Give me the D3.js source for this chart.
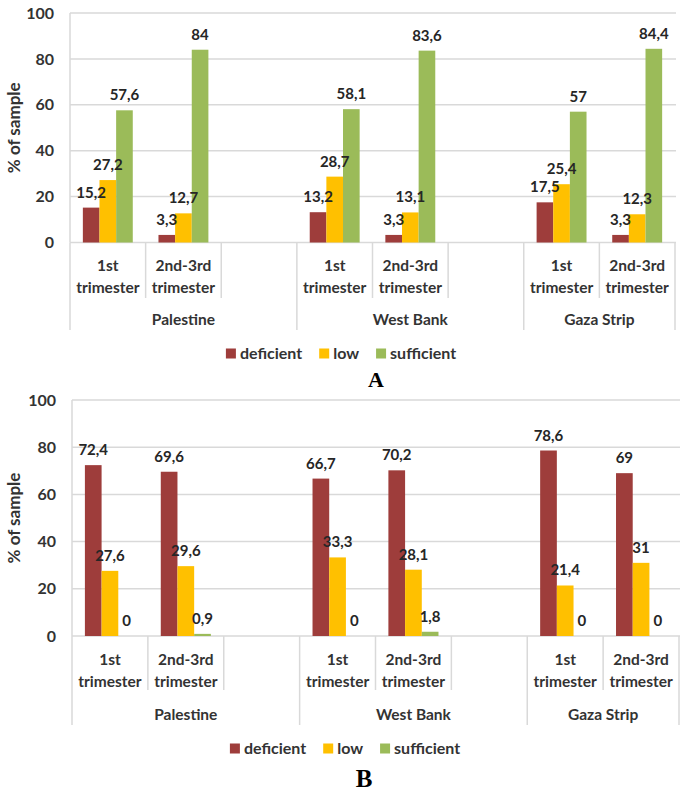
<!DOCTYPE html>
<html>
<head>
<meta charset="utf-8">
<script src="https://cdn.jsdelivr.net/npm/d3@7"></script>
<style>
  html, body { margin: 0; padding: 0; background: #fff; }
  svg { display: block; }
</style>
</head>
<body>
<svg id="chart" width="684" height="791"></svg>
<script>
// ---- data ----
const groups = ["Palestine", "West Bank", "Gaza Strip"];
const periods = ["1st|trimester", "2nd-3rd|trimester"];
const series = ["deficient", "low", "sufficient"];
const yTicks = [0, 20, 40, 60, 80, 100];

// order: Pal 1st, Pal 2nd-3rd, WB 1st, WB 2nd-3rd, Gaza 1st, Gaza 2nd-3rd
const deficientA = [15.2, 3.3, 13.2, 3.3, 17.5, 3.3];
const lowA = [27.2, 12.7, 28.7, 13.1, 25.4, 12.3];
const sufficientA = [57.6, 84, 58.1, 83.6, 57, 84.4];

const deficientB = [72.4, 69.6, 66.7, 70.2, 78.6, 69];
const lowB = [27.6, 29.6, 33.3, 28.1, 21.4, 31];
const sufficientB = [0, 0.9, 0, 1.8, 0, 0];

const colors = { deficient: "#9e3d3b", low: "#ffc000", sufficient: "#9bbb59" };
const FONT = "Lato, 'Open Sans', sans-serif";
const TXT = "#333333";

const svg = d3.select("#chart");
svg.append("rect").attr("width", 684).attr("height", 791).attr("fill", "#fff");

function drawChart(cfg, vals, letter) {
  const g = svg.append("g");
  const slots = [];
  groups.forEach((gr, gi) => {
    periods.forEach((p, pi) => slots.push(gr + "#" + pi));
    if (gi < groups.length - 1) slots.push(gr + "#gap");
  });
  const x = d3.scaleBand().domain(slots).range([cfg.x0, cfg.x1]).padding(0);
  const bw = x.bandwidth();
  const y = d3.scaleLinear().domain([0, 100]).range([cfg.yZero, cfg.yTop]);

  g.selectAll("line.grid").data(yTicks).join("line")
    .attr("x1", cfg.x0).attr("x2", cfg.x1 + 1)
    .attr("y1", d => y(d)).attr("y2", d => y(d))
    .attr("stroke", "#d9d9d9").attr("stroke-width", 1.5);
  g.append("line").attr("x1", cfg.x0).attr("x2", cfg.x0)
    .attr("y1", y(100)).attr("y2", y(0))
    .attr("stroke", "#d9d9d9").attr("stroke-width", 1.5);

  g.selectAll("text.yt").data(yTicks).join("text")
    .attr("x", cfg.x0 - 16).attr("y", d => y(d)).attr("dy", "0.35em")
    .attr("text-anchor", "end")
    .attr("font-family", FONT).attr("font-weight", "bold").attr("font-size", 16)
    .attr("fill", TXT).text(d => d);

  g.append("text")
    .attr("transform", `translate(${cfg.titleX},${(y(0) + y(100)) / 2}) rotate(-90)`)
    .attr("text-anchor", "middle")
    .attr("font-family", FONT).attr("font-weight", "bold").attr("font-size", 17)
    .attr("fill", TXT).text("% of sample");

  const boundaries = [];
  groups.forEach((gr, gi) => {
    const first = x(gr + "#0");
    const lastKey = gi < groups.length - 1 ? gr + "#gap" : gr + "#" + (periods.length - 1);
    const end = x(lastKey) + bw;
    boundaries.push({ x: first, tall: true });
    periods.forEach((p, pi) => {
      const e = x(gr + "#" + pi) + bw;
      if (Math.abs(e - end) > 0.5) boundaries.push({ x: e, tall: false });
    });
    if (gi === groups.length - 1) boundaries.push({ x: end, tall: true });
  });
  g.selectAll("line.xt").data(boundaries).join("line")
    .attr("x1", d => d.x).attr("x2", d => d.x)
    .attr("y1", y(0)).attr("y2", d => y(0) + (d.tall ? cfg.tallTick : cfg.shortTick))
    .attr("stroke", "#d9d9d9").attr("stroke-width", 1.5);

  groups.forEach((gr, gi) => {
    periods.forEach((p, pi) => {
      const cx = x(gr + "#" + pi) + bw / 2;
      p.split("|").forEach((ln, li) => {
        g.append("text").attr("x", cx).attr("y", y(0) + (li === 0 ? cfg.cat1 : cfg.cat2))
          .attr("text-anchor", "middle")
          .attr("font-family", FONT).attr("font-weight", "bold").attr("font-size", 15.5)
          .attr("fill", TXT).text(ln);
      });
    });
    const first = x(gr + "#0");
    const lastKey = gi < groups.length - 1 ? gr + "#gap" : gr + "#" + (periods.length - 1);
    const end = x(lastKey) + bw;
    g.append("text").attr("x", (first + end) / 2).attr("y", y(0) + cfg.grp)
      .attr("text-anchor", "middle")
      .attr("font-family", FONT).attr("font-weight", "bold").attr("font-size", 15.5)
      .attr("fill", TXT).text(gr);
  });

  const rows = [];
  groups.forEach((gr, gi) => periods.forEach((p, pi) => {
    const idx = gi * periods.length + pi;
    series.forEach(s => rows.push({ key: gr + "#" + pi, s, v: vals[s][idx] }));
  }));
  const inner = d3.scaleBand().domain(series).range([bw * 0.17, bw * 0.83]).padding(0);
  g.selectAll("rect.bar").data(rows).join("rect")
    .attr("x", d => x(d.key) + inner(d.s))
    .attr("width", inner.bandwidth())
    .attr("y", d => y(d.v))
    .attr("height", d => y(0) - y(d.v))
    .attr("fill", d => colors[d.s]);
  g.selectAll("text.lbl").data(rows).join("text")
    .attr("x", d => x(d.key) + inner(d.s) + inner.bandwidth() / 2)
    .attr("y", d => y(d.v) - 10)
    .attr("text-anchor", "middle")
    .attr("font-family", FONT).attr("font-weight", "bold").attr("font-size", 15)
    .attr("fill", "#262626")
    .text(d => String(d.v).replace(".", ","));

  const lg = g.append("g");
  let lx = 0;
  series.forEach(s => {
    const it = lg.append("g").attr("transform", `translate(${lx},0)`);
    it.append("rect").attr("x", 0).attr("y", -10.5).attr("width", 10).attr("height", 10).attr("fill", colors[s]);
    const t = it.append("text").attr("x", 14).attr("y", 0)
      .attr("font-family", FONT).attr("font-weight", "bold").attr("font-size", 16)
      .attr("fill", TXT).text(s);
    lx += 14 + t.node().getComputedTextLength() + 17;
  });
  const lw = lx - 17;
  lg.attr("transform", `translate(${cfg.legendCx - lw / 2},${y(0) + cfg.leg})`);

  g.append("text").attr("x", cfg.letterX).attr("y", y(0) + cfg.letterY)
    .attr("text-anchor", "middle")
    .attr("font-family", "'Liberation Serif', 'DejaVu Serif', serif")
    .attr("font-weight", "bold").attr("font-size", cfg.letterSize)
    .attr("fill", "#000").text(letter);
}

drawChart({ x0: 70, x1: 675, yTop: 13, yZero: 242.5, titleX: 20,
  shortTick: 55.5, tallTick: 87.5, cat1: 28, cat2: 50.5, grp: 82.5, leg: 116.5,
  legendCx: 341, letterX: 376, letterY: 144.5, letterSize: 22 },
  { deficient: deficientA, low: lowA, sufficient: sufficientA }, "A");

drawChart({ x0: 72, x1: 679, yTop: 400, yZero: 636, titleX: 20,
  shortTick: 54, tallTick: 89, cat1: 29, cat2: 51, grp: 84, leg: 118,
  legendCx: 345, letterX: 364, letterY: 151, letterSize: 25 },
  { deficient: deficientB, low: lowB, sufficient: sufficientB }, "B");
</script>
</body>
</html>
